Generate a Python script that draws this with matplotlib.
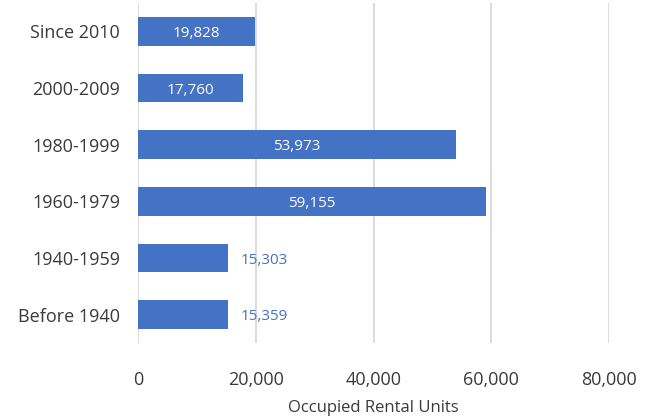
import matplotlib
matplotlib.use("Agg")
import matplotlib.pyplot as plt
from matplotlib.ticker import FuncFormatter

periods = ["Since 2010", "2000-2009", "1980-1999", "1960-1979", "1940-1959", "Before 1940"]
units = [19828, 17760, 53973, 59155, 15303, 15359]
inside = [True, True, True, True, False, False]

bar_color = "#4472C4"
text_color = "#3a3a3a"
plt.rcParams["font.family"] = ["Open Sans", "DejaVu Sans"]

fig = plt.figure(figsize=(6.56, 4.19), dpi=100)
ax = fig.add_axes([138/656, 1 - 343/419, (609 - 138)/656, 340/419])

y = list(range(len(periods)))[::-1]
ax.barh(y, units, height=0.51, color=bar_color, zorder=3)

for yi, v, ins in zip(y, units, inside):
    lab = f"{v:,}"
    if ins:
        ax.annotate(lab, (v / 2, yi), xytext=(0, -1.5), textcoords="offset points",
                    ha="center", va="center", color="white", fontsize=11, zorder=4)
    else:
        ax.annotate(lab, (v, yi), xytext=(9, -1.5), textcoords="offset points",
                    ha="left", va="center", color=bar_color, fontsize=11)

ax.set_xlim(0, 80000)
ax.set_ylim(-0.5, 5.5)
ax.set_xticks([0, 20000, 40000, 60000, 80000])
ax.xaxis.set_major_formatter(FuncFormatter(lambda v, p: f"{int(v):,}"))
ax.set_yticks(y)
ax.set_yticklabels(periods)
ax.tick_params(axis="x", length=0, pad=20, labelsize=13, colors=text_color)
ax.tick_params(axis="y", length=0, pad=13, labelsize=13, colors=text_color)
ax.grid(axis="x", color="#d9d9d9", linewidth=1.3, zorder=0)
for s in ax.spines.values():
    s.set_visible(False)
ax.set_xlabel("Occupied Rental Units", fontsize=12, color=text_color, labelpad=8)

fig.savefig("out.png", dpi=100)
